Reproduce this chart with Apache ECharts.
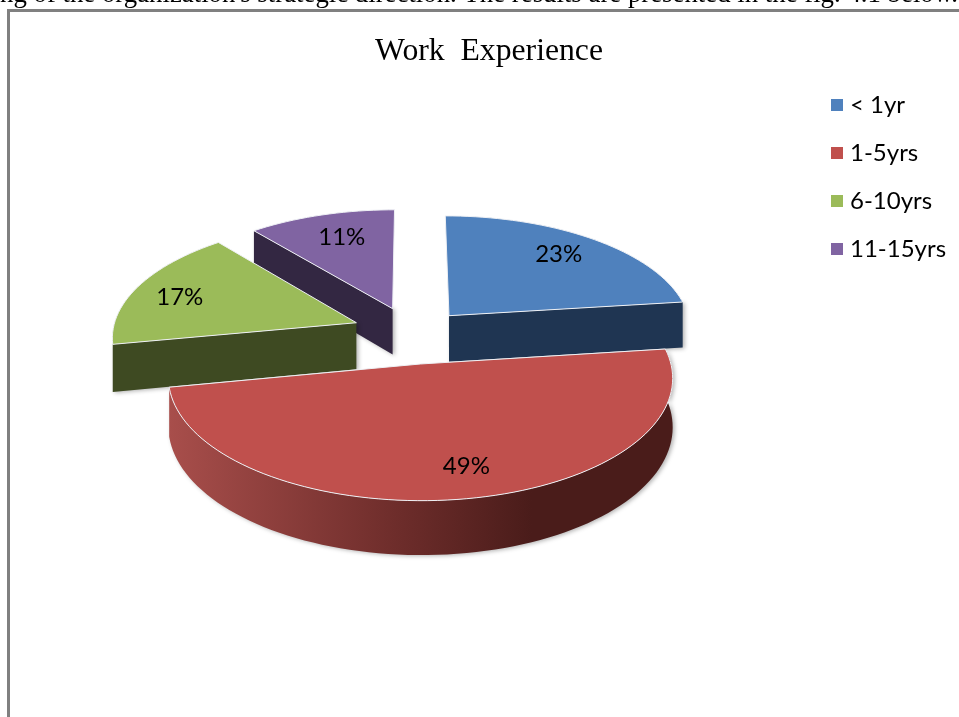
<!DOCTYPE html>
<html>
<head>
<meta charset="utf-8">
<title>Work Experience</title>
<script src="https://cdn.jsdelivr.net/npm/echarts@6/dist/echarts.min.js"></script>
<style>
  html, body { margin: 0; padding: 0; background: #fff; }
  #chart { width: 959px; height: 717px; }
</style>
</head>
<body>
<div id="chart"></div>
<script>
const categories = ['< 1yr', '1-5yrs', '6-10yrs', '11-15yrs'];
const shares = [23, 49, 17, 11];
const topColors = ['#4F81BD', '#C0504D', '#9BBB59', '#8064A2'];
const sideColors = ['#1F3552', '#4A1C1A', '#3E4A22', '#332742'];
const drawOrder = [3, 2, 0, 1]; // back slices first, red one sits in front

// look of the tilted pie
const originX = 411, originY = 336;
const radiusX = 244, radiusY = 115;
const perspective = 0.11;
const explode = 0.24;
const depth = 47;
const startAngle = 0;
const labelRadius = 0.75;
const sliceNudge = [[0, 0], [0, 0], [0, -4], [1, -2]];
const labelNudge = [[0, -3], [13, 4], [-12, 2], [4, 0]];

function project(mx, my, drop) {
  const w = 1 / (1 - perspective * my);
  return [originX + radiusX * mx * w, originY + radiusY * my * w + (drop ? depth * w : 0)];
}

function sliceAngles(index) {
  const total = shares.reduce((a, b) => a + b, 0);
  const before = shares.slice(0, index).reduce((a, b) => a + b, 0);
  return [startAngle + before / total * 360, startAngle + (before + shares[index]) / total * 360];
}

function renderSlice(index, api) {
  const angles = sliceAngles(index);
  const from = angles[0], to = api.value(0) / 100 * 360 + from;
  const mid = (from + to) / 2 * Math.PI / 180;
  const ox = Math.sin(mid) * explode, oy = -Math.cos(mid) * explode;
  const at = (deg, r, drop) => {
    const t = deg * Math.PI / 180;
    const p = project(ox + Math.sin(t) * r, oy - Math.cos(t) * r, drop);
    return [p[0] + sliceNudge[index][0], p[1] + sliceNudge[index][1]];
  };

  const rim = [], rimLow = [];
  for (let deg = from; deg < to; deg += 2) {
    rim.push(at(deg, 1, false));
    rimLow.push(at(deg, 1, true));
  }
  rim.push(at(to, 1, false));
  rimLow.push(at(to, 1, true));

  const apex = at(from, 0, false), apexLow = at(from, 0, true);
  const wallShadow = { shadowBlur: 4, shadowColor: 'rgba(0,0,0,0.3)', shadowOffsetX: 2, shadowOffsetY: 1 };
  const wall = (a, b) => ({
    type: 'polygon',
    shape: { points: [apex, a, b, apexLow] },
    style: Object.assign({ fill: sideColors[index] }, wallShadow)
  });

  const children = [];
  // flat cut faces: only the ones turned toward the viewer
  if (Math.sin(from * Math.PI / 180) < 0) children.push(wall(rim[0], rimLow[0]));
  if (Math.sin(to * Math.PI / 180) > 0) children.push(wall(rim[rim.length - 1], rimLow[rimLow.length - 1]));

  // only the red slice shows its curved side
  if (index === 1) {
    children.push({
      type: 'polygon',
      shape: { points: rim.concat(rimLow.slice().reverse()) },
      style: Object.assign({
        fill: {
          type: 'linear', x: 0, y: 0, x2: 1, y2: 0,
          colorStops: [
            { offset: 0, color: '#A84E4B' },
            { offset: 0.45, color: '#6E2D2B' },
            { offset: 0.72, color: '#4A1C1A' },
            { offset: 1, color: '#4A1C1A' }
          ]
        }
      }, wallShadow)
    });
  }

  children.push({
    type: 'polygon',
    shape: { points: [apex].concat(rim) },
    style: { fill: topColors[index], stroke: '#eef0f4', lineWidth: 1 }
  });

  const labelPos = at((from + to) / 2, labelRadius, false);
  children.push({
    type: 'text',
    x: labelPos[0] + labelNudge[index][0],
    y: labelPos[1] + labelNudge[index][1],
    style: {
      text: api.value(0) + '%',
      fill: '#000',
      font: '24px Lato',
      align: 'center',
      verticalAlign: 'middle'
    }
  });

  return { type: 'group', children: children };
}

const chart = echarts.init(document.getElementById('chart'));
chart.setOption({
  animation: false,
  title: {
    text: 'Work  Experience',
    left: 484,
    top: 31,
    textAlign: 'center',
    textStyle: { fontFamily: 'Liberation Serif', fontSize: 31.7, fontWeight: 'normal', color: '#000' }
  },
  legend: {
    data: categories,
    orient: 'vertical',
    left: 826,
    top: 88,
    icon: 'rect',
    itemWidth: 12,
    itemHeight: 12,
    itemGap: 24,
    textStyle: { fontFamily: 'Lato', fontSize: 24, color: '#000', lineHeight: 24, padding: [0, 0, 0, 2] }
  },
  graphic: [
    { type: 'rect', shape: { x: 7, y: 9, width: 952, height: 3 }, style: { fill: '#808080' } },
    { type: 'rect', shape: { x: 7, y: 9, width: 3, height: 708 }, style: { fill: '#808080' } },
    {
      type: 'text', x: 0, y: -19,
      style: {
        text: "ng of the organization's strategic direction. The results are presented in the fig. 4.1 below.",
        fill: '#000',
        font: '26.8px "Liberation Serif"'
      }
    }
  ],
  series: drawOrder.map(i => ({
    type: 'custom',
    name: categories[i],
    coordinateSystem: 'none',
    itemStyle: { color: topColors[i] },
    data: [[shares[i]]],
    renderItem: (params, api) => renderSlice(i, api)
  }))
});
</script>
</body>
</html>
